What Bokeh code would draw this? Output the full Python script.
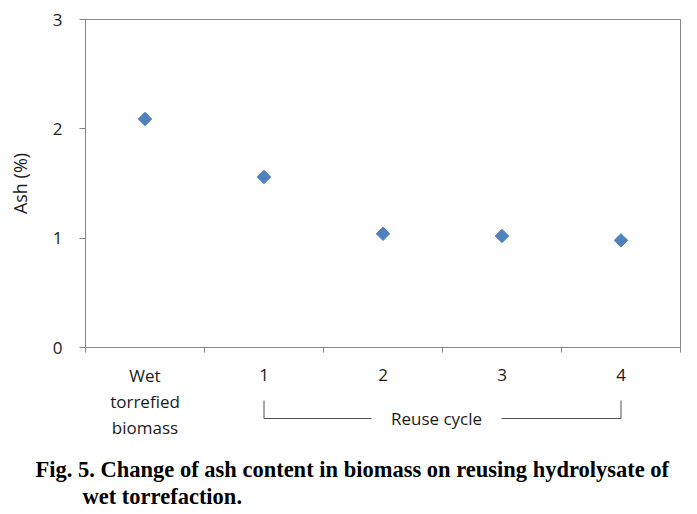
import math
from bokeh.plotting import figure
from bokeh.layouts import column
from bokeh.models import Range1d, FixedTicker
from bokeh.core.properties import value
from bokeh.embed import file_html
from bokeh.resources import INLINE

# ---- data ----
categories = ["Wet\ntorrefied\nbiomass", "1", "2", "3", "4"]
ash_pct = [2.09, 1.56, 1.04, 1.02, 0.98]
y_ticks = [0, 1, 2, 3]
bracket_from = 1
bracket_to = 4
bracket_label = "Reuse cycle"
caption_lines = ["Fig. 5. Change of ash content in biomass on reusing hydrolysate of",
                 "wet torrefaction."]

FONT = "Open Sans"
TXT = "#1a1a1a"
AX = "#868686"
BLUE = "#4f81bd"

# ---- layout constants (pixels) ----
W = 690
LEFT, RIGHT, TOP = 85, 10, 19
FRAME_BOTTOM = 347
H_A = 360
H_B = 150

xs = list(range(len(categories)))
x0, x1 = -0.5, len(categories) - 0.5
scale = (W - LEFT - RIGHT) / (x1 - x0)

# ---------------- chart ----------------
p = figure(width=W, height=H_A, output_backend="svg", toolbar_location=None,
           x_range=Range1d(x0, x1), y_range=Range1d(0, 3),
           min_border_left=LEFT, min_border_right=RIGHT, min_border_top=TOP,
           min_border_bottom=H_A - FRAME_BOTTOM)
p.outline_line_color = AX
p.xgrid.visible = False
p.ygrid.visible = False

p.scatter(xs, ash_pct, marker="square", angle=math.pi / 4, size=9.5, color=BLUE)

ya = p.yaxis[0]
ya.ticker = FixedTicker(ticks=y_ticks, minor_ticks=[])
ya.axis_line_color = AX
ya.major_tick_line_color = AX
ya.major_tick_out = 6
ya.major_tick_in = 0
ya.minor_tick_line_color = None
ya.major_label_text_font = FONT
ya.major_label_text_font_size = "17px"
ya.major_label_text_color = TXT
ya.major_label_standoff = 17
ya.axis_label = "Ash (%)"
ya.axis_label_text_font = FONT
ya.axis_label_text_font_size = "18px"
ya.axis_label_text_font_style = "normal"
ya.axis_label_text_color = TXT
ya.axis_label_standoff = 18

xa = p.xaxis[0]
xa.ticker = FixedTicker(ticks=xs, minor_ticks=[i - 0.5 for i in range(len(categories) + 1)])
xa.major_label_overrides = {i: "" for i in xs}
xa.major_label_text_font_size = "0px"
xa.major_label_standoff = 0
xa.axis_line_color = AX
xa.major_tick_out = 0
xa.major_tick_in = 0
xa.major_tick_line_color = None
xa.minor_tick_line_color = AX
xa.minor_tick_out = 5
xa.minor_tick_in = 0

# ---------------- category labels, bracket and caption ----------------
bx0 = x0 - LEFT / scale
bx1 = x1 + RIGHT / scale
q = figure(width=W, height=H_B, output_backend="svg", toolbar_location=None,
           x_range=Range1d(bx0, bx1), y_range=Range1d(H_B, 0),
           x_axis_location=None, y_axis_location=None,
           min_border_left=0, min_border_right=0, min_border_top=0, min_border_bottom=0)
q.outline_line_color = None
q.xgrid.visible = False
q.ygrid.visible = False
try:
    q.frame_align = False
    p.frame_align = False
except Exception:
    pass

LINE_STEP = 26
lx, ly, lt = [], [], []
for i, c in zip(xs, categories):
    for k, part in enumerate(c.split("\n")):
        lx.append(i)
        ly.append(14.5 + k * LINE_STEP)
        lt.append(part)
q.text(lx, ly, text=lt, text_font=value(FONT), text_font_size="17px",
       text_color=TXT, text_align="center", text_baseline="middle")

# bracket
top_y, bot_y = 40, 58
mid = (bracket_from + bracket_to) / 2
half_gap = 65 / scale
shift = -6 / scale
q.multi_line(xs=[[bracket_from, bracket_from, mid + shift - half_gap],
                 [mid + shift + half_gap, bracket_to, bracket_to]],
             ys=[[top_y, bot_y, bot_y], [bot_y, bot_y, top_y]],
             line_color="#505050", line_width=1)
q.text([mid + shift], [bot_y], text=[bracket_label], text_font=value(FONT),
       text_font_size="17px", text_color=TXT, text_align="center",
       text_baseline="middle")

# caption
cap_x = [bx0 + 35 / scale, bx0 + 82 / scale]
cap_y = [109, 136]
q.text(cap_x, cap_y, text=caption_lines, text_font=value("Liberation Serif"),
       text_font_style="bold", text_font_size="22.5px", text_color="black",
       text_align="left", text_baseline="middle")

layout = column(p, q, spacing=0)
open("out.html", "w").write(file_html(layout, INLINE))
